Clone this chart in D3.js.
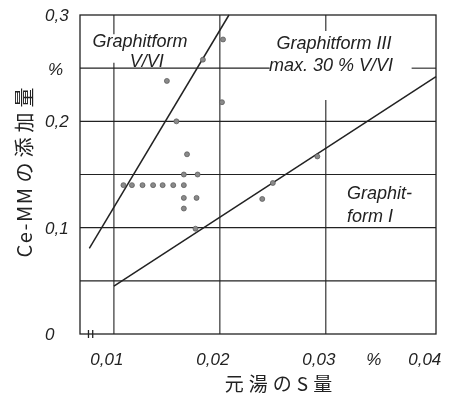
<!DOCTYPE html>
<html>
<head>
<meta charset="utf-8">
<script src="https://cdn.jsdelivr.net/npm/d3@7"></script>
<style>
  html, body { margin: 0; padding: 0; background: #fff; }
  svg { display: block; will-change: transform; }
  .tick-label, .note { font-family: "Liberation Sans Narrow", "Liberation Sans", sans-serif; font-style: italic; fill: #222; }
  .title { font-family: "Noto Sans CJK JP", sans-serif; fill: #222; }
</style>
</head>
<body>
<svg id="chart" width="452" height="402"></svg>
<script>
// S content of the base melt (%) and Ce-mischmetal addition (%) for each trial
const sContent = [0.0203, 0.0184, 0.0150, 0.0202, 0.0159, 0.0169, 0.0166, 0.0179,
                  0.0109, 0.0117, 0.0127, 0.0137, 0.0146, 0.0156, 0.0166,
                  0.0166, 0.0178, 0.0166, 0.0177, 0.0292, 0.0250, 0.0240];
const ceAddition = [0.277, 0.258, 0.238, 0.218, 0.200, 0.169, 0.150, 0.150,
                    0.140, 0.140, 0.140, 0.140, 0.140, 0.140, 0.140,
                    0.128, 0.128, 0.118, 0.099, 0.167, 0.142, 0.127];

// Boundary lines between graphite forms (S %, Ce-MM %)
const boundaryVVI_S = [0.00768, 0.02086];
const boundaryVVI_Ce = [0.0806, 0.300];
const boundaryI_S = [0.0100, 0.0404];
const boundaryI_Ce = [0.0451, 0.242];

// Axis ticks and labels
const xTicks = [0.01, 0.02, 0.03, 0.04];
const xTickLabels = ["0,01", "0,02", "0,03", "0,04"];
const yTicks = [0, 0.1, 0.2, 0.3];
const yTickLabels = ["0", "0,1", "0,2", "0,3"];
const yGrid = [0.05, 0.1, 0.15, 0.2, 0.25];
const xGrid = [0.01, 0.02, 0.03];

const svg = d3.select("#chart");
const plotL = 80, plotR = 436, plotT = 15, plotB = 334;
const x = d3.scaleLinear().domain([0.0068, 0.0404]).range([plotL, plotR]);
const y = d3.scaleLinear().domain([0, 0.3]).range([plotB, plotT]);
const ink = "#222";

const g = svg.append("g");

// horizontal grid (the 0.25 line is interrupted by the form III note)
const hSegments = [];
yGrid.forEach(v => {
  if (v === 0.25) {
    hSegments.push({ v, a: x.domain()[0], b: 0.0247 });
    hSegments.push({ v, a: 0.0381, b: x.domain()[1] });
  } else {
    hSegments.push({ v, a: x.domain()[0], b: x.domain()[1] });
  }
});
g.selectAll("line.hgrid").data(hSegments).join("line")
  .attr("class", "hgrid")
  .attr("x1", d => x(d.a)).attr("x2", d => x(d.b))
  .attr("y1", d => y(d.v)).attr("y2", d => y(d.v))
  .attr("stroke", ink).attr("stroke-width", 1.1);

// vertical grid (0.01 and 0.03 lines are interrupted by the notes)
const vSegments = [];
xGrid.forEach(v => {
  if (v === 0.01) {
    vSegments.push({ v, a: 0.3, b: 0.282 });
    vSegments.push({ v, a: 0.255, b: 0 });
  } else if (v === 0.03) {
    vSegments.push({ v, a: 0.3, b: 0.285 });
    vSegments.push({ v, a: 0.220, b: 0 });
  } else {
    vSegments.push({ v, a: 0.3, b: 0 });
  }
});
g.selectAll("line.vgrid").data(vSegments).join("line")
  .attr("class", "vgrid")
  .attr("x1", d => x(d.v)).attr("x2", d => x(d.v))
  .attr("y1", d => y(d.a)).attr("y2", d => y(d.b))
  .attr("stroke", ink).attr("stroke-width", 1.1);

// frame
g.append("rect")
  .attr("x", plotL).attr("y", plotT)
  .attr("width", plotR - plotL).attr("height", plotB - plotT)
  .attr("fill", "none").attr("stroke", ink).attr("stroke-width", 1.3);

// axis break mark on the S axis
const breakX = [0.0076, 0.0080];
g.selectAll("line.brk").data(breakX).join("line")
  .attr("class", "brk")
  .attr("x1", d => x(d)).attr("x2", d => x(d))
  .attr("y1", plotB - 4).attr("y2", plotB + 4)
  .attr("stroke", ink).attr("stroke-width", 1.3);

// boundary lines
const line = d3.line().x(d => x(d[0])).y(d => y(d[1]));
g.append("path")
  .attr("d", line(d3.zip(boundaryVVI_S, boundaryVVI_Ce)))
  .attr("fill", "none").attr("stroke", ink).attr("stroke-width", 1.5);
g.append("path")
  .attr("d", line(d3.zip(boundaryI_S, boundaryI_Ce)))
  .attr("fill", "none").attr("stroke", ink).attr("stroke-width", 1.5);

// trial points
g.selectAll("circle.pt").data(d3.zip(sContent, ceAddition)).join("circle")
  .attr("class", "pt")
  .attr("cx", d => x(d[0])).attr("cy", d => y(d[1]))
  .attr("r", 2.5)
  .attr("fill", "#8a8a8a").attr("stroke", "#555").attr("stroke-width", 0.7);

// y tick labels
g.selectAll("text.ylab").data(d3.zip(yTicks, yTickLabels)).join("text")
  .attr("class", "tick-label ylab")
  .attr("x", 45).attr("y", d => y(d[0]) + 6)
  .attr("font-size", 17)
  .text(d => d[1]);
g.append("text").attr("class", "tick-label")
  .attr("x", 48).attr("y", y(0.25) + 7).attr("font-size", 17).text("%");

// x tick labels
g.selectAll("text.xlab").data(d3.zip(xTicks, xTickLabels)).join("text")
  .attr("class", "tick-label xlab")
  .attr("x", d => x(d[0]) - 7).attr("y", 365)
  .attr("text-anchor", "middle")
  .attr("font-size", 17)
  .text(d => d[1]);
g.append("text").attr("class", "tick-label")
  .attr("x", x(0.035) - 5).attr("y", 365)
  .attr("text-anchor", "middle").attr("font-size", 17).text("%");

// region notes
const notes = [
  { t: "Graphitform", s: 0.01246, c: 0.2700, anchor: "middle" },
  { t: "V/VI", s: 0.0131, c: 0.2510, anchor: "middle" },
  { t: "Graphitform III", s: 0.03077, c: 0.2680, anchor: "middle" },
  { t: "max. 30 % V/VI", s: 0.0305, c: 0.2470, anchor: "middle" },
  { t: "Graphit-", s: 0.0320, c: 0.1270, anchor: "start" },
  { t: "form I", s: 0.0320, c: 0.1055, anchor: "start" }
];
g.selectAll("text.note").data(notes).join("text")
  .attr("class", "note")
  .attr("x", d => x(d.s)).attr("y", d => y(d.c))
  .attr("text-anchor", d => d.anchor)
  .attr("font-size", 18)
  .text(d => d.t);

// axis titles
const yTitle = svg.append("text").attr("class", "title")
  .attr("transform", "translate(32,170) rotate(-90)")
  .attr("text-anchor", "middle")
  .attr("font-size", 20);
yTitle.append("tspan").attr("letter-spacing", 1.5).text("Ce-MM");
yTitle.append("tspan").attr("dx", 4).attr("letter-spacing", 5).text("の添加量");

svg.append("text").attr("class", "title")
  .attr("x", 281).attr("y", 391)
  .attr("text-anchor", "middle")
  .attr("font-size", 19).attr("letter-spacing", 5)
  .text("元湯のS量");
</script>
</body>
</html>
